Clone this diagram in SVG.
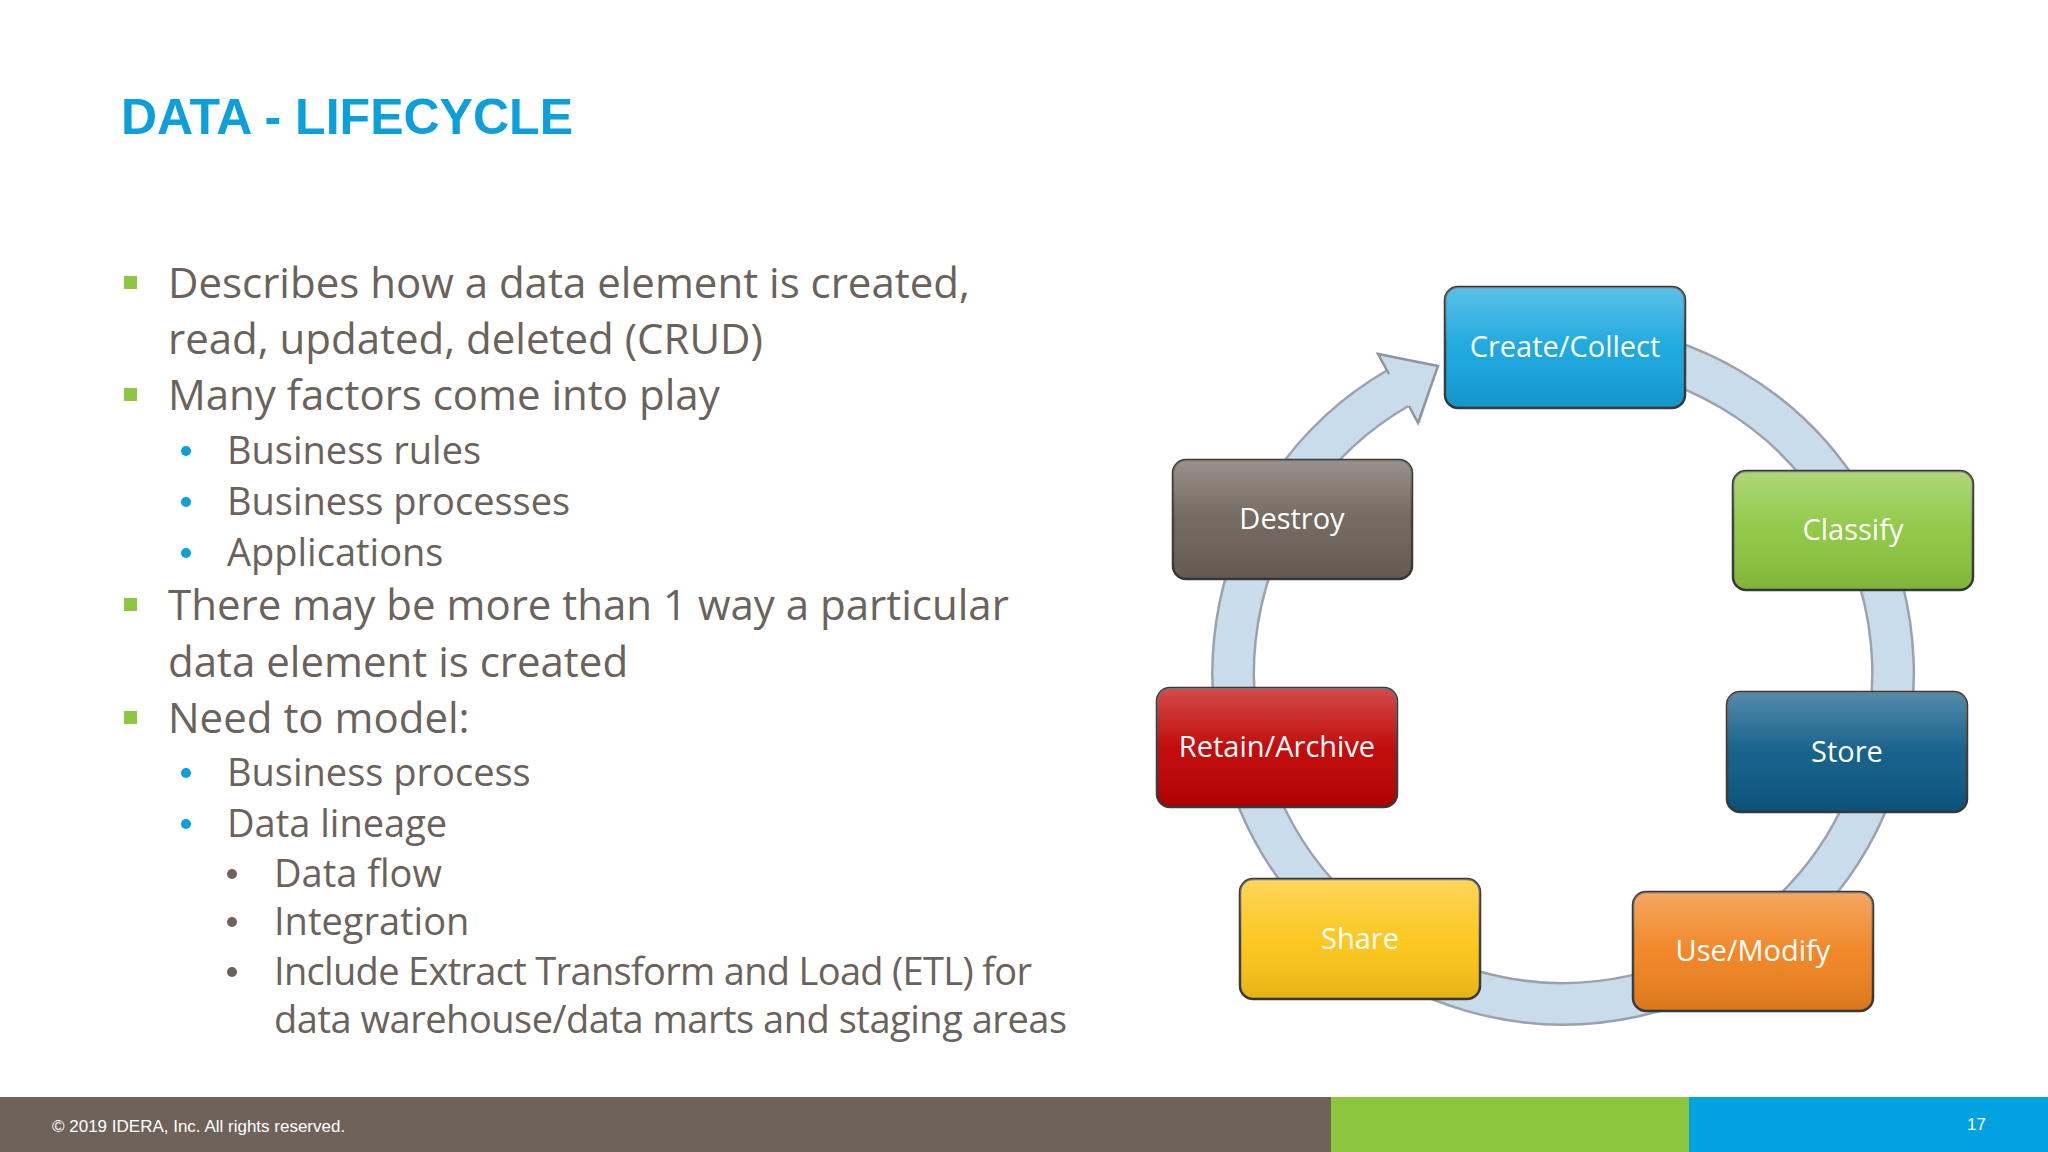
<svg xmlns="http://www.w3.org/2000/svg" width="2048" height="1152" viewBox="0 0 2048 1152">
<style>
.b{font-family:"Open Sans","Noto Sans",sans-serif;fill:#6b625b}
.l1{font-size:42px}
.l2{font-size:38px}
.n{font-family:"Open Sans","Noto Sans",sans-serif;font-size:29px;fill:#fff;text-anchor:middle}
.box{stroke:#3a3a3a;stroke-width:2.5}
</style>
<defs>
<linearGradient id="gl" x1="0" y1="0" x2="0" y2="1">
<stop offset="0" stop-color="#fff" stop-opacity="0.3"/>
<stop offset="0.5" stop-color="#fff" stop-opacity="0.05"/>
<stop offset="1" stop-color="#000" stop-opacity="0.1"/>
</linearGradient>
</defs>
<rect width="2048" height="1152" fill="#fff"/>
<text x="121" y="134" font-family="Liberation Sans,sans-serif" font-weight="bold" font-size="50" fill="#0c9fd9" textLength="452">DATA - LIFECYCLE</text>
<g id="bullets">
<g fill="#8dc63f"><rect x="124" y="276" width="13" height="13"/><rect x="124" y="388" width="13" height="13"/><rect x="124" y="598" width="13" height="13"/><rect x="124" y="711" width="13" height="13"/></g>
<g fill="#0c9fd9"><circle cx="186" cy="451" r="5"/><circle cx="186" cy="502" r="5"/><circle cx="186" cy="553" r="5"/><circle cx="186" cy="773" r="5"/><circle cx="186" cy="824" r="5"/></g>
<g fill="#6b625b"><circle cx="232" cy="874" r="5"/><circle cx="232" cy="922" r="5"/><circle cx="232" cy="972" r="5"/></g>
<text class="b l1" x="168" y="298">Describes how a data element is created,</text>
<text class="b l1" x="168" y="354">read, updated, deleted (CRUD)</text>
<text class="b l1" x="168" y="410">Many factors come into play</text>
<text class="b l2" x="227" y="464">Business rules</text>
<text class="b l2" x="227" y="515">Business processes</text>
<text class="b l2" x="227" y="566">Applications</text>
<text class="b l1" x="168" y="620">There may be more than 1 way a particular</text>
<text class="b l1" x="168" y="677">data element is created</text>
<text class="b l1" x="168" y="733">Need to model:</text>
<text class="b l2" x="227" y="786">Business process</text>
<text class="b l2" x="227" y="837">Data lineage</text>
<text class="b l2" x="274" y="887">Data flow</text>
<text class="b l2" x="274" y="935">Integration</text>
<text class="b l2" x="274" y="985" textLength="758">Include Extract Transform and Load (ETL) for</text>
<text class="b l2" x="274" y="1033" textLength="793">data warehouse/data marts and staging areas</text>
</g>
<g id="connectors">
<path d="M1592 345 A330 330 0 1 1 1398 388" fill="none" stroke="#9aa3ad" stroke-width="44"/>
<path d="M1592 345 A330 330 0 1 1 1398 388" fill="none" stroke="#c9dcec" stroke-width="39"/>
<polygon points="1376,352 1438,366 1420,424" fill="#c9dcec"/>
<polygon points="1387,371 1379,355 1437,366 1417,421 1409,406 1403,393" fill="#c9dcec"/>
<polyline points="1389,374 1378,354 1438,366 1418,423 1409,406" fill="none" stroke="#8e959c" stroke-width="2.5"/>
</g>
<g id="create"><rect class="box" x="1445" y="287" width="240" height="121" rx="13" fill="#14a5de"/><rect x="1445" y="287" width="240" height="121" rx="13" fill="url(#gl)"/><text class="n" x="1565" y="357">Create/Collect</text></g>
<g id="classify"><rect class="box" x="1733" y="471" width="240" height="119" rx="13" fill="#8cc63f"/><rect x="1733" y="471" width="240" height="119" rx="13" fill="url(#gl)"/><text class="n" x="1853" y="540">Classify</text></g>
<g id="store"><rect class="box" x="1727" y="692" width="240" height="120" rx="13" fill="#0b5a86"/><rect x="1727" y="692" width="240" height="120" rx="13" fill="url(#gl)"/><text class="n" x="1847" y="762">Store</text></g>
<g id="use"><rect class="box" x="1633" y="892" width="240" height="119" rx="13" fill="#f0821e"/><rect x="1633" y="892" width="240" height="119" rx="13" fill="url(#gl)"/><text class="n" x="1753" y="961">Use/Modify</text></g>
<g id="share"><rect class="box" x="1240" y="879" width="240" height="120" rx="13" fill="#fdc516"/><rect x="1240" y="879" width="240" height="120" rx="13" fill="url(#gl)"/><text class="n" x="1360" y="949">Share</text></g>
<g id="retain"><rect class="box" x="1157" y="688" width="240" height="119" rx="13" fill="#c00000"/><rect x="1157" y="688" width="240" height="119" rx="13" fill="url(#gl)"/><text class="n" x="1277" y="757">Retain/Archive</text></g>
<g id="destroy"><rect class="box" x="1173" y="460" width="239" height="119" rx="13" fill="#6e6259"/><rect x="1173" y="460" width="239" height="119" rx="13" fill="url(#gl)"/><text class="n" x="1292" y="529">Destroy</text></g>
<g id="footer">
<rect x="0" y="1097" width="1331" height="55" fill="#6e6259"/>
<rect x="1331" y="1097" width="358" height="55" fill="#8dc63f"/>
<rect x="1689" y="1097" width="359" height="55" fill="#00a3e0"/>
<text x="52" y="1132" font-family="Liberation Sans,sans-serif" font-size="17" fill="#fff">© 2019 IDERA, Inc. All rights reserved.</text>
<text x="1967" y="1130" font-family="Liberation Sans,sans-serif" font-size="17" fill="#fff">17</text>
</g>
</svg>
